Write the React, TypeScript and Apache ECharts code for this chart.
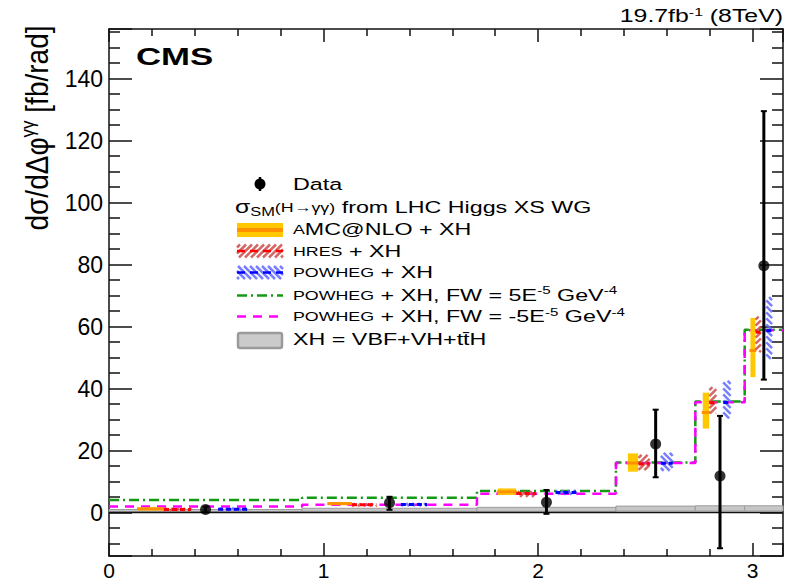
import React, { useEffect, useRef } from "react";
import * as echarts from "echarts";

// Δφ bin edges (rad)
const binEdges = [0, 0.9, 1.715, 2.363, 2.733, 2.963, Math.PI];

// Measured cross section with asymmetric uncertainties (fb/rad)
const dataValues = [1.0, 3.2, 3.3, 22.1, 11.8, 79.6];
const dataLow = [0.1, 0.9, -0.4, 11.4, -11.5, 42.9];
const dataHigh = [1.9, 5.1, 7.3, 33.2, 31.2, 129.5];

// aMC@NLO + XH
const amcValues = [1.2, 2.9, 6.7, 16.0, 32.3, 52.3];
const amcLow = [0.9, 2.6, 5.7, 13.2, 27.1, 43.7];
const amcHigh = [1.5, 3.2, 7.8, 19.1, 38.7, 62.8];

// HRES + XH
const hresValues = [1.0, 2.5, 6.2, 15.7, 35.4, 58.2];
const hresLow = [0.7, 2.2, 5.1, 13.7, 32.0, 51.8];
const hresHigh = [1.3, 2.8, 6.9, 18.6, 40.5, 63.2];

// POWHEG + XH
const powhegValues = [1.1, 2.6, 6.5, 15.9, 35.5, 58.7];
const powhegLow = [0.8, 2.2, 5.8, 13.5, 30.4, 49.6];
const powhegHigh = [1.4, 3.0, 7.2, 19.3, 42.5, 69.5];

// POWHEG + XH with anomalous couplings
const fwPlusValues = [4.1, 4.8, 7.0, 16.2, 35.8, 59.0];
const fwMinusValues = [2.0, 2.5, 6.1, 16.0, 35.6, 58.8];

// XH = VBF + VH + ttH band
const xhLow = [0.3, 0.4, 0.4, 0.5, 0.5, 0.5];
const xhHigh = [1.0, 1.4, 1.7, 2.1, 2.2, 2.2];

const FONT = "'Liberation Sans', Arial, Helvetica, sans-serif";
const INK = "#000";

const tok = (size: number, extra: any = {}) => ({
  fontSize: size,
  fontFamily: FONT,
  fill: INK,
  ...extra,
});

// Diagonal hatch segments clipped to a rectangle. dir > 0 draws "/", dir < 0 draws "\".
function hatchSegments(x0: number, y0: number, w: number, h: number, step: number, dir: number) {
  const segs: number[][] = [];
  if (w <= 0 || h <= 0) return segs;
  if (dir > 0) {
    for (let c = x0 + y0 + step / 2; c < x0 + w + y0 + h; c += step) {
      const xa = Math.max(x0, c - y0 - h);
      const xb = Math.min(x0 + w, c - y0);
      if (xb > xa) segs.push([xa, c - xa, xb, c - xb]);
    }
  } else {
    for (let c = y0 - x0 - w + step / 2; c < y0 + h - x0; c += step) {
      const xa = Math.max(x0, y0 - c);
      const xb = Math.min(x0 + w, y0 + h - c);
      if (xb > xa) segs.push([xa, xa + c, xb, xb + c]);
    }
  }
  return segs;
}

const hatchLines = (segs: number[][], stroke: string, lineWidth: number) =>
  segs.map((s) => ({
    type: "line",
    shape: { x1: s[0], y1: s[1], x2: s[2], y2: s[3] },
    style: { stroke, lineWidth },
  }));

type Look = {
  kind: "band" | "hatch";
  fill?: string;
  hatch?: string;
  line: string;
  dir?: number;
};

const AMC_LOOK: Look = { kind: "band", fill: "#ffc800", line: "#ff9000" };
const HRES_LOOK: Look = { kind: "hatch", hatch: "rgba(205,75,75,0.85)", line: "#ff0000", dir: 1 };
const POWHEG_LOOK: Look = { kind: "hatch", hatch: "rgba(95,105,255,0.85)", line: "#0000ff", dir: -1 };

// Theory prediction drawn as a narrow box inside each bin, offset so the three do not overlap
function predictionSeries(
  name: string,
  values: number[],
  low: number[],
  high: number[],
  pos: number,
  widthFrac: number,
  look: Look
) {
  const rows = values.map((v, i) => [binEdges[i], binEdges[i + 1], v, low[i], high[i]]);
  return {
    type: "custom",
    name,
    data: rows,
    encode: { x: [0, 1], y: [3, 4] },
    z: 4,
    renderItem: (_params: any, api: any) => {
      const lo = api.value(0);
      const hi = api.value(1);
      const cx = lo + pos * (hi - lo);
      const hw = (widthFrac * (hi - lo)) / 2;
      const tl = api.coord([cx - hw, api.value(4)]);
      const br = api.coord([cx + hw, api.value(3)]);
      const yc = api.coord([cx, api.value(2)])[1];
      const x0 = tl[0];
      const w = br[0] - tl[0];
      let y0 = tl[1];
      let h = br[1] - tl[1];
      if (h < 3) {
        y0 = yc - 1.5;
        h = 3;
      }
      const children: any[] = [];
      if (look.kind === "band") {
        children.push({
          type: "rect",
          shape: { x: x0, y: y0, width: w, height: h },
          style: { fill: look.fill },
        });
        children.push({
          type: "line",
          shape: { x1: x0 - 1, y1: yc, x2: x0 + w + 1, y2: yc },
          style: { stroke: look.line, lineWidth: 3 },
        });
      } else {
        children.push(...hatchLines(hatchSegments(x0, y0, w, h, 6, look.dir as number), look.hatch as string, 2.5));
        children.push({
          type: "line",
          shape: { x1: x0, y1: yc, x2: x0 + w, y2: yc },
          style: { stroke: look.line, lineWidth: 3, lineDash: [5, 3] },
        });
      }
      return { type: "group", children };
    },
  };
}

function stepPoints(values: number[]) {
  const pts: number[][] = [];
  values.forEach((v, i) => {
    pts.push([binEdges[i], v], [binEdges[i + 1], v]);
  });
  return pts;
}

const binCenters = dataValues.map((_, i) => (binEdges[i] + binEdges[i + 1]) / 2);

function buildOption() {
  const frameLine = { show: true, onZero: false, lineStyle: { color: "#111", width: 1.5 } };
  const tickStyle = { color: "#111", width: 1.5 };

  const xCommon = {
    type: "value",
    min: binEdges[0],
    max: binEdges[binEdges.length - 1],
    interval: 1,
    axisLine: frameLine,
    axisTick: { show: true, inside: true, length: 13, lineStyle: tickStyle },
    minorTick: { show: true, splitNumber: 5, length: 7, lineStyle: tickStyle },
    splitLine: { show: false },
    minorSplitLine: { show: false },
  };
  const yCommon = {
    type: "value",
    min: -14,
    max: 156,
    splitNumber: 8,
    minInterval: 20,
    maxInterval: 20,
    axisLine: frameLine,
    axisTick: { show: true, inside: true, length: 23, lineStyle: tickStyle },
    minorTick: { show: true, splitNumber: 4, length: 11, lineStyle: tickStyle },
    splitLine: { show: false },
    minorSplitLine: { show: false },
  };

  // legend swatches
  const sx = 237;
  const sw = 46;
  const legend: any[] = [];
  // Data marker
  legend.push({
    type: "line",
    shape: { x1: 260, y1: 177, x2: 260, y2: 191 },
    style: { stroke: INK, lineWidth: 2.5 },
  });
  legend.push({ type: "circle", shape: { cx: 260, cy: 184, r: 5.5 }, style: { fill: INK } });
  // aMC@NLO
  legend.push({ type: "rect", shape: { x: sx, y: 223, width: sw, height: 14 }, style: { fill: AMC_LOOK.fill } });
  legend.push({
    type: "line",
    shape: { x1: sx, y1: 230, x2: sx + sw, y2: 230 },
    style: { stroke: AMC_LOOK.line, lineWidth: 4 },
  });
  // HRES
  legend.push(...hatchLines(hatchSegments(sx, 244.5, sw, 13, 6, 1), HRES_LOOK.hatch as string, 2.5));
  legend.push({
    type: "line",
    shape: { x1: sx, y1: 251, x2: sx + sw, y2: 251 },
    style: { stroke: HRES_LOOK.line, lineWidth: 2.5, lineDash: [8, 5] },
  });
  // POWHEG
  legend.push(...hatchLines(hatchSegments(sx, 266, sw, 13, 6, -1), POWHEG_LOOK.hatch as string, 2.5));
  legend.push({
    type: "line",
    shape: { x1: sx, y1: 272.5, x2: sx + sw, y2: 272.5 },
    style: { stroke: POWHEG_LOOK.line, lineWidth: 2.5, lineDash: [8, 5] },
  });
  // FW = +5E-5
  legend.push({
    type: "line",
    shape: { x1: sx, y1: 295.5, x2: sx + sw, y2: 295.5 },
    style: { stroke: "#139a13", lineWidth: 2.5, lineDash: [10, 4, 2, 4] },
  });
  // FW = -5E-5
  legend.push({
    type: "line",
    shape: { x1: sx, y1: 316.5, x2: sx + sw, y2: 316.5 },
    style: { stroke: "#ff00ff", lineWidth: 2.5, lineDash: [9, 7] },
  });
  // XH band
  legend.push({
    type: "rect",
    shape: { x: sx + 1, y: 333, width: sw - 2, height: 15, r: 2 },
    style: { fill: "#cbcbcb", stroke: "#9a9a9a", lineWidth: 2.5 },
  });

  const richBase = {
    n: tok(17),
    sc: tok(13),
    sup: tok(11, { padding: [0, 0, 9, 0] }),
    sub: tok(12, { padding: [9, 0, 0, 0] }),
    sig: tok(18),
    s: tok(13),
  };
  const legendText = (x: number, y: number, text: string) => ({
    type: "text",
    x,
    y,
    scaleX: 1.37,
    style: { text, rich: richBase, fill: INK, font: `17px ${FONT}`, textVerticalAlign: "middle" },
  });

  const texts: any[] = [
    legendText(293, 184, "{n|Data}"),
    legendText(235, 207, "{sig|σ}{sub|SM}{s|(H→γγ)}{n| from LHC Higgs XS WG}"),
    legendText(293, 229.5, "{sc|A}{n|MC@NLO + XH}"),
    legendText(293, 251, "{sc|HRES}{n| + XH}"),
    legendText(293, 272.5, "{sc|POWHEG}{n| + XH}"),
    legendText(293, 295, "{sc|POWHEG}{n| + XH, FW = 5E}{sup|-5}{n| GeV}{sup|-4}"),
    legendText(293, 316.5, "{sc|POWHEG}{n| + XH, FW = -5E}{sup|-5}{n| GeV}{sup|-4}"),
    legendText(293, 339.5, "{n|XH = VBF+VH+tt̄H}"),
    {
      type: "text",
      x: 136,
      y: 57,
      scaleX: 1.45,
      style: { text: "CMS", fill: INK, font: `bold 24px ${FONT}`, textVerticalAlign: "middle" },
    },
    {
      type: "text",
      x: 783,
      y: 16,
      scaleX: 1.38,
      style: {
        text: "{n|19.7fb}{sup|-1}{n| (8TeV)}",
        rich: { n: tok(18), sup: tok(11.5, { padding: [0, 0, 9, 0] }) },
        fill: INK,
        font: `18px ${FONT}`,
        textAlign: "right",
        textVerticalAlign: "middle",
      },
    },
    {
      type: "text",
      x: 37,
      y: 128,
      rotation: Math.PI / 2,
      scaleY: 1.12,
      style: {
        text: "{n|dσ/dΔφ}{sup|γγ}{n| [fb/rad]}",
        rich: { n: tok(28), sup: tok(17, { padding: [0, 0, 16, 0] }) },
        fill: INK,
        font: `28px ${FONT}`,
        textAlign: "center",
        textVerticalAlign: "middle",
      },
    },
  ];

  return {
    animation: false,
    backgroundColor: "#fff",
    grid: { left: 109, right: 3, top: 29, bottom: 24, containLabel: false, outerBoundsMode: "none" },
    xAxis: [
      {
        ...xCommon,
        position: "bottom",
        axisLabel: {
          show: true,
          margin: 4,
          fontSize: 21,
          lineHeight: 20,
          fontFamily: FONT,
          color: INK,
          formatter: (v: number) => (Number.isInteger(v) ? String(v) : ""),
        },
      },
      { ...xCommon, position: "top", axisLabel: { show: false } },
    ],
    yAxis: [
      {
        ...yCommon,
        position: "left",
        axisLabel: {
          show: true,
          margin: 6,
          fontSize: 23,
          fontFamily: FONT,
          color: INK,
          formatter: (v: number) => (v % 20 === 0 ? String(v) : ""),
        },
      },
      { ...yCommon, position: "right", axisLabel: { show: false } },
    ],
    graphic: [...legend, ...texts].map((g) => ({ ...g, z: 100, silent: true })),
    series: [
      {
        type: "custom",
        name: "XH",
        data: xhLow.map((l, i) => [binEdges[i], binEdges[i + 1], l, xhHigh[i]]),
        encode: { x: [0, 1], y: [2, 3] },
        z: 1,
        renderItem: (_p: any, api: any) => {
          const a = api.coord([api.value(0), api.value(3)]);
          const b = api.coord([api.value(1), api.value(2)]);
          return {
            type: "rect",
            shape: { x: a[0], y: a[1], width: b[0] - a[0], height: Math.max(b[1] - a[1], 1.5) },
            style: { fill: "#c6c6c6", stroke: "#9d9d9d", lineWidth: 1 },
          };
        },
      },
      {
        type: "line",
        name: "zero",
        data: [
          [binEdges[0], 0],
          [binEdges[binEdges.length - 1], 0],
        ],
        symbol: "none",
        z: 2,
        lineStyle: { color: "#111", width: 1.5 },
      },
      {
        type: "line",
        name: "FW+",
        data: stepPoints(fwPlusValues),
        symbol: "none",
        z: 3,
        lineStyle: { color: "#139a13", width: 2.5, type: [10, 4, 2, 4] },
      },
      {
        type: "line",
        name: "FW-",
        data: stepPoints(fwMinusValues),
        symbol: "none",
        z: 3,
        lineStyle: { color: "#ff00ff", width: 2.5, type: [9, 7] },
      },
      predictionSeries("aMC@NLO", amcValues, amcLow, amcHigh, 0.215, 0.13, AMC_LOOK),
      predictionSeries("HRES", hresValues, hresLow, hresHigh, 0.355, 0.14, HRES_LOOK),
      predictionSeries("POWHEG", powhegValues, powhegLow, powhegHigh, 0.64, 0.15, POWHEG_LOOK),
      {
        type: "custom",
        name: "Data errors",
        data: dataValues.map((_, i) => [binCenters[i], dataLow[i], dataHigh[i]]),
        encode: { x: 0, y: [1, 2] },
        z: 6,
        renderItem: (_p: any, api: any) => {
          const top = api.coord([api.value(0), api.value(2)]);
          const bot = api.coord([api.value(0), api.value(1)]);
          const cap = 3;
          return {
            type: "group",
            children: [
              {
                type: "line",
                shape: { x1: top[0], y1: top[1], x2: bot[0], y2: bot[1] },
                style: { stroke: INK, lineWidth: 3 },
              },
              {
                type: "line",
                shape: { x1: top[0] - cap, y1: top[1], x2: top[0] + cap, y2: top[1] },
                style: { stroke: INK, lineWidth: 2 },
              },
              {
                type: "line",
                shape: { x1: bot[0] - cap, y1: bot[1], x2: bot[0] + cap, y2: bot[1] },
                style: { stroke: INK, lineWidth: 2 },
              },
            ],
          };
        },
      },
      {
        type: "scatter",
        name: "Data",
        data: dataValues.map((v, i) => [binCenters[i], v]),
        symbol: "circle",
        symbolSize: 11,
        z: 7,
        itemStyle: { color: INK },
      },
    ],
  };
}

export default function App() {
  const ref = useRef<HTMLDivElement>(null);
  useEffect(() => {
    document.body.style.margin = "0";
    if (!ref.current) return;
    const chart = echarts.init(ref.current, undefined, { renderer: "svg" });
    chart.setOption(buildOption() as any);
    return () => chart.dispose();
  }, []);
  return <div ref={ref} style={{ width: 786, height: 580 }} />;
}
